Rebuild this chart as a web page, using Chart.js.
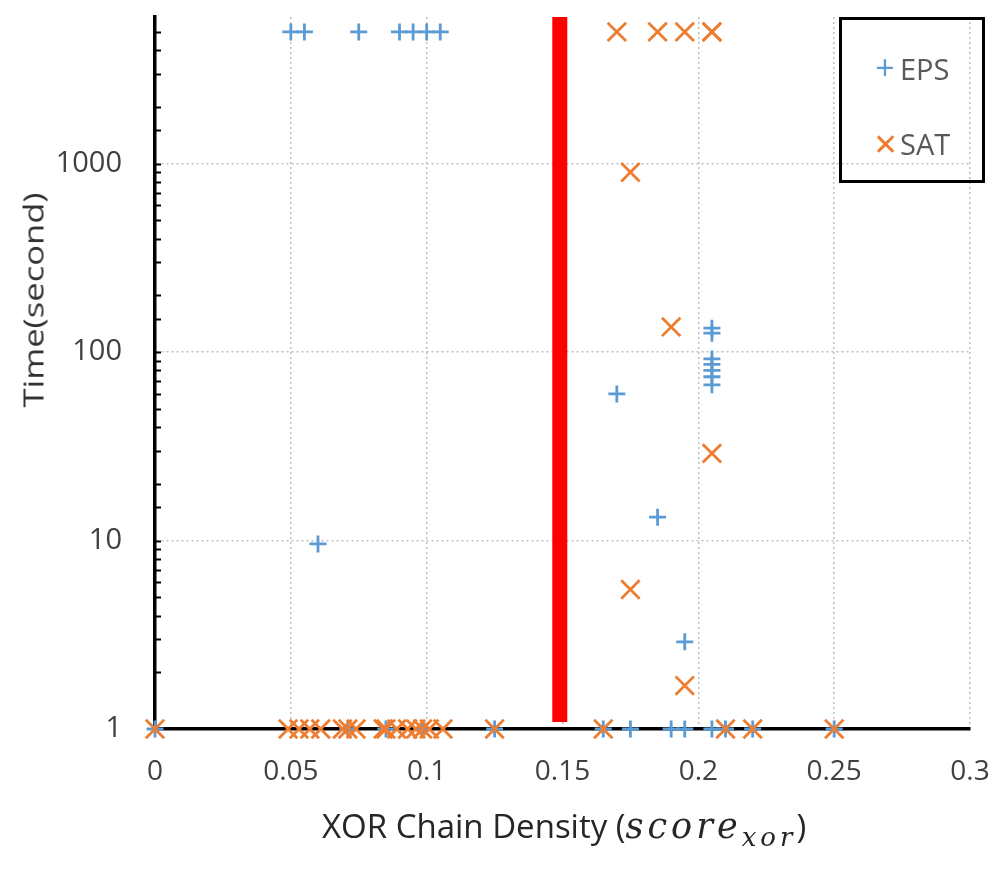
<!DOCTYPE html>
<html>
<head>
<meta charset="utf-8">
<script src="https://cdn.jsdelivr.net/npm/chart.js@4"></script>
<style>
  body { margin: 0; background: #fff; }
  #wrap { position: relative; width: 997px; height: 869px; font-family: "Open Sans", sans-serif; }
  #ytitle { position: absolute; left: 33px; top: 300px; width: 300px; text-align: center;
    font-size: 27px; color: #333; white-space: nowrap;
    transform: translate(-50%, -50%) rotate(-90deg) scaleX(1.28); }
  #xtitle { position: absolute; left: 322px; top: 803px; font-size: 33px; color: #262626; white-space: nowrap; }
  #xtitle .m { font-family: "DejaVu Serif", serif; font-style: italic; font-size: 35px; letter-spacing: 4px; }
  #xtitle sub { font-size: 26px; letter-spacing: 4px; }
  #legend { position: absolute; left: 839px; top: 17px; width: 140px; height: 160px; border: 3px solid #000; }
  #legend div { position: absolute; left: 30px; font-size: 29px; color: #595959; white-space: nowrap; }
  #legend b { font-weight: normal; display: inline-block; width: 26px; text-align: center; margin-right: 2px; }
</style>
</head>
<body>
<div id="wrap">
  <canvas id="c"></canvas>
  <div id="ytitle">Time(second)</div>
  <div id="xtitle">XOR Chain Density (<span class="m">score<sub>xor</sub></span>)</div>
  <div id="legend">
    <div style="top:29px"><b style="color:#5B9BD5;font-size:34px;line-height:29px">+</b>EPS</div>
    <div style="top:103px"><b style="color:#ED7D31;font-size:30px">&#x2715;</b>SAT</div>
  </div>
</div>
<script>
// EPS runs: xor chain density vs solving time (5000 = timeout)
var epsX = [0.05, 0.055, 0.075, 0.09, 0.095, 0.1, 0.105,
  0.06, 0.17, 0.185, 0.195,
  0.205, 0.205, 0.205, 0.205, 0.205, 0.205, 0.205,
  0, 0.071, 0.085, 0.0985, 0.125, 0.165, 0.175, 0.19, 0.195, 0.205, 0.21, 0.22, 0.25];
var epsTime = [5000, 5000, 5000, 5000, 5000, 5000, 5000,
  9.6, 60, 13.3, 2.9,
  134, 126, 92, 86, 80, 74, 67,
  1, 1, 1, 1, 1, 1, 1, 1, 1, 1, 1, 1, 1];

// SAT runs
var satX = [0.17, 0.185, 0.195, 0.205, 0.205,
  0.175, 0.19, 0.205, 0.175, 0.195,
  0, 0.049, 0.053, 0.057, 0.061, 0.069, 0.071, 0.074, 0.084, 0.085, 0.089,
  0.093, 0.096, 0.0985, 0.101, 0.106, 0.125, 0.165, 0.21, 0.22, 0.25];
var satTime = [5000, 5000, 5000, 5000, 5000,
  900, 136, 29, 5.5, 1.7,
  1, 1, 1, 1, 1, 1, 1, 1, 1, 1, 1,
  1, 1, 1, 1, 1, 1, 1, 1, 1, 1];

// red threshold marker
var cutoffX = 0.149;
var cutoffTime = [1.09, 6000];

var xTicks = [0, 0.05, 0.1, 0.15, 0.2, 0.25, 0.3];
var yLabels = [1, 10, 100, 1000];

function toPoints(xs, ys) {
  return xs.map(function(x, i) { return {x: x, y: ys[i]}; });
}

function isMajor(v) {
  return yLabels.indexOf(v) > -1;
}

// small inside tick marks on the log axis
var innerTicks = {
  id: 'innerTicks',
  afterDatasetsDraw: function(chart) {
    var s = chart.scales.y, ctx = chart.ctx, x0 = chart.chartArea.left;
    ctx.save();
    ctx.strokeStyle = '#000';
    ctx.lineWidth = 2;
    s.ticks.forEach(function(t) {
      if (t.value >= s.max || t.value <= s.min) return;
      var y = Math.round(s.getPixelForValue(t.value)) + 0.5;
      ctx.beginPath();
      ctx.moveTo(x0, y);
      ctx.lineTo(x0 + 6, y);
      ctx.stroke();
    });
    ctx.restore();
  }
};

new Chart(document.getElementById('c'), {
  type: 'scatter',
  data: {
    datasets: [{
      label: 'cutoff',
      type: 'line',
      data: cutoffTime.map(function(t) { return {x: cutoffX, y: t}; }),
      borderColor: '#FF0000',
      borderWidth: 15,
      borderCapStyle: 'butt',
      pointRadius: 0,
      order: 3
    }, {
      label: 'EPS',
      data: toPoints(epsX, epsTime),
      pointStyle: 'cross',
      pointRadius: 8.5,
      borderColor: '#5B9BD5',
      backgroundColor: '#5B9BD5',
      borderWidth: 2.8,
      clip: false,
      order: 2
    }, {
      label: 'SAT',
      data: toPoints(satX, satTime),
      pointStyle: 'crossRot',
      pointRadius: 13,
      borderColor: '#ED7D31',
      backgroundColor: '#ED7D31',
      borderWidth: 2.8,
      clip: false,
      order: 1
    }]
  },
  options: {
    responsive: true,
    maintainAspectRatio: false,
    animation: false,
    layout: { padding: { top: 17, right: 27, left: 0, bottom: 0 } },
    plugins: { legend: { display: false }, tooltip: { enabled: false } },
    scales: {
      x: {
        type: 'linear',
        min: 0, max: 0.3,
        afterFit: function(s) { s.height = 140; s.paddingLeft = 0; s.paddingRight = 0; },
        afterBuildTicks: function(s) { s.ticks = xTicks.map(function(v) { return {value: v}; }); },
        ticks: {
          padding: 26,
          color: '#404040',
          font: { family: 'Open Sans', size: 28 },
          callback: function(v) { return String(+(+v).toFixed(2)); }
        },
        grid: {
          drawTicks: false,
          lineWidth: 1.5,
          color: function(c) { return c.tick && c.tick.value > 0 ? '#BFBFBF' : 'rgba(0,0,0,0)'; }
        },
        border: { color: '#000', width: 3.5, dash: [2, 3] }
      },
      y: {
        type: 'logarithmic',
        min: 1, max: 6000,
        afterFit: function(s) { s.width = 155; s.paddingTop = 0; s.paddingBottom = 0; },
        ticks: {
          autoSkip: false,
          padding: 33,
          color: '#404040',
          font: { family: 'Open Sans', size: 29 },
          callback: function(v) { return isMajor(v) ? String(v) : ''; }
        },
        grid: {
          drawTicks: false,
          lineWidth: 1.5,
          color: function(c) { return c.tick && isMajor(c.tick.value) && c.tick.value > 1 ? '#BFBFBF' : 'rgba(0,0,0,0)'; }
        },
        border: { color: '#000', width: 3.5, dash: [2, 3] }
      }
    }
  },
  plugins: [innerTicks]
});
</script>
</body>
</html>
